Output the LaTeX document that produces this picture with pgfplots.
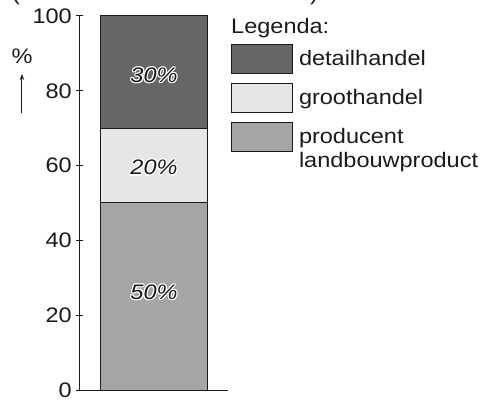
\documentclass[border=0pt]{standalone}
\usepackage{pgfplots}
\pgfplotsset{compat=1.18}
\usepackage{fontspec}
\setmainfont{Liberation Sans}[FakeStretch=1.12]
\usetikzlibrary{arrows.meta}

\definecolor{detail}{HTML}{666666}
\definecolor{groot}{HTML}{E6E6E6}
\definecolor{prod}{HTML}{A5A5A5}
\definecolor{ink}{HTML}{1A1A1A}

% white outline round a label: eight white copies, then the text itself
\newcommand\hc[3]{\rlap{\kern#1\raisebox{#2}{\color{white}#3}}}
\newcommand\halo[1]{\leavevmode
  \hc{1.2bp}{0bp}{#1}\hc{-1.2bp}{0bp}{#1}\hc{0bp}{1.2bp}{#1}\hc{0bp}{-1.2bp}{#1}%
  \hc{0.85bp}{0.85bp}{#1}\hc{-0.85bp}{0.85bp}{#1}\hc{0.85bp}{-0.85bp}{#1}\hc{-0.85bp}{-0.85bp}{#1}%
  {\color{ink}#1}}

\pgfplotsset{
  legbox/.style={legend image code/.code={
      \draw[##1, line width=1bp] (0bp,-8bp) rectangle (61bp,21bp);
      \path (67bp,0bp);}},
  % with anchor=center the label already sits in the middle of its segment
  midlabel/.style={
    nodes near coords={\halo{\pgfmathprintnumber{\pgfplotspointmeta}\%}},
    every node near coord/.append style={anchor=center, yshift=#1,
      font=\fontsize{21bp}{24bp}\selectfont\itshape}},
}

\begin{document}
\fontsize{21bp}{24bp}\selectfont
\begin{tikzpicture}
\begin{axis}[
    scale only axis,
    width=148bp, height=374bp,
    ybar stacked,
    bar width=107bp,
    xmin=-0.7, xmax=0.7,
    ymin=0, ymax=100,
    ytick={0,20,...,100},
    xtick=\empty,
    axis x line=bottom, axis y line=left,
    axis line style={-, line width=1bp, ink},
    tick style={line width=1bp, ink},
    tick align=center,
    major tick length=7bp,
    /pgf/number format/assume math mode=true,
    yticklabel style={inner sep=0pt, text=ink, xshift=-4.5bp},
    ylabel={\%},
    ylabel style={rotate=-90, at={(axis description cs:-0.392,0.872)}, anchor=base, inner sep=0pt, text=ink},
    point meta=explicit,
    reverse legend,
    legend style={at={(axis description cs:1.0203,0.9251)}, anchor=north west,
      draw=none, fill=none, inner sep=0pt, outer sep=0pt, row sep=9bp,
      nodes={anchor=base west, inner sep=0pt, text=ink}},
  ]
  \addplot[fill=prod, draw=ink, line width=1bp, legbox, midlabel=4bp]
    coordinates {(0,50) [50]};
  \addlegendentry{\vtop{\hbox{producent}\hbox{landbouwproduct}}}
  \addplot[fill=groot, draw=ink, line width=1bp, legbox, midlabel=-2bp]
    coordinates {(0,20) [20]};
  \addlegendentry{groothandel}
  \addplot[fill=detail, draw=ink, line width=1bp, legbox, midlabel=-3bp]
    coordinates {(0,30) [30]};
  \addlegendentry{detailhandel}
\end{axis}
\draw[line width=1bp, ink, -{Stealth[length=6bp, width=4.5bp]}] (-58bp,277bp) -- (-58bp,316bp);
\node[anchor=base west, inner sep=0pt, text=ink] at (151bp,356bp) {Legenda:};
\node[anchor=base west, inner sep=0pt, text=ink] at (-68bp,389.4bp) {(};
\node[anchor=base west, inner sep=0pt, text=ink] at (230bp,389.4bp) {)};
\pgfresetboundingbox
\path[use as bounding box] (-80bp,-10bp) rectangle (403bp,390bp);
\end{tikzpicture}
\end{document}
